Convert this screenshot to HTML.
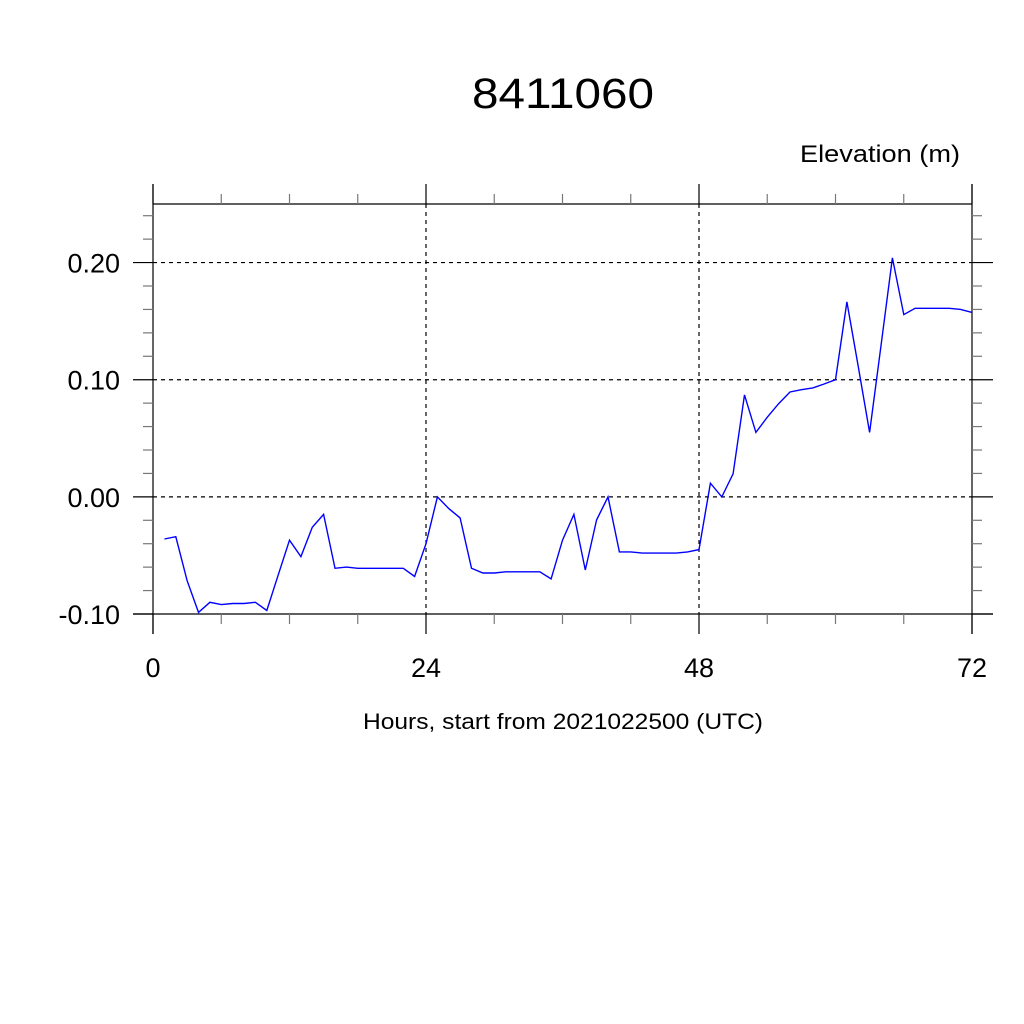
<!DOCTYPE html>
<html><head><meta charset="utf-8"><style>
html,body{margin:0;padding:0;background:#fff;width:1024px;height:1024px;overflow:hidden}
svg{display:block}
text{font-family:"Liberation Sans",sans-serif;fill:#000}
</style></head><body>
<svg id="chart" width="1024" height="1024" viewBox="0 0 1024 1024" xmlns="http://www.w3.org/2000/svg">
<rect width="1024" height="1024" fill="#fff"/>
<text x="563" y="108" font-size="43" text-anchor="middle" textLength="182" lengthAdjust="spacingAndGlyphs">8411060</text>
<text x="960" y="162" font-size="24" text-anchor="end" textLength="160" lengthAdjust="spacingAndGlyphs">Elevation (m)</text>
<text x="563" y="729" font-size="22" text-anchor="middle" textLength="400" lengthAdjust="spacingAndGlyphs">Hours, start from 2021022500 (UTC)</text>
<g id="grid"></g><g id="axes"></g><g id="series"></g>
</svg>
<script>
const hours=[1,2,3,4,5,6,7,8,9,10,11,12,13,14,15,16,17,18,19,20,21,22,23,24,25,26,27,28,29,30,31,32,33,34,35,36,37,38,39,40,41,42,43,44,45,46,47,48,49,50,51,52,53,54,55,56,57,58,59,60,61,62,63,64,65,66,67,68,69,70,71,72];
const elevation=[-0.036,-0.034,-0.0715,-0.0986,-0.090,-0.092,-0.091,-0.091,-0.090,-0.097,-0.067,-0.037,-0.051,-0.026,-0.015,-0.061,-0.060,-0.061,-0.061,-0.061,-0.061,-0.061,-0.068,-0.040,0.000,-0.010,-0.018,-0.061,-0.065,-0.065,-0.064,-0.064,-0.064,-0.064,-0.070,-0.037,-0.015,-0.0624,-0.0197,0.000,-0.047,-0.047,-0.048,-0.048,-0.048,-0.048,-0.047,-0.045,0.0117,0.000,0.0197,0.087,0.055,0.068,0.0795,0.0895,0.0915,0.093,0.0963,0.100,0.1664,0.111,0.055,0.129,0.204,0.1556,0.161,0.161,0.161,0.161,0.160,0.1575];
const xMajorTicks=[0,24,48,72];
const xMinorTicks=[6,12,18,30,36,42,54,60,66];
const yMajorTicks=[-0.10,0.00,0.10,0.20];
const yMajorLabels=["-0.10","0.00","0.10","0.20"];
const yMinorTicks=[-0.08,-0.06,-0.04,-0.02,0.02,0.04,0.06,0.08,0.12,0.14,0.16,0.18,0.22,0.24];
const yGrid=[0.00,0.10,0.20];
const xGrid=[24,48];

const X0=153,X1=972,YB=614,YT=204;
const xs=h=>X0+(h-0)/(72-0)*(X1-X0);
const ys=v=>YB-(v-(-0.10))/(0.25-(-0.10))*(YB-YT);
const NS="http://www.w3.org/2000/svg";
function mk(tag,attrs,parent){const e=document.createElementNS(NS,tag);for(const k in attrs)e.setAttribute(k,attrs[k]);parent.appendChild(e);return e;}
const grid=document.getElementById('grid'),axes=document.getElementById('axes'),series=document.getElementById('series');
yGrid.forEach(v=>{const l=mk('line',{x1:X0,x2:X1,y1:ys(v),y2:ys(v),stroke:'#000','stroke-width':1.2,'stroke-dasharray':'4 4'},grid);

});
xGrid.forEach(h=>{const l=mk('line',{x1:xs(h),x2:xs(h),y1:YT,y2:YB,stroke:'#000','stroke-width':1.2,'stroke-dasharray':'4 4'},grid);

});
[[X0,184,X0,634],[X1,184,X1,634],[X0,YT,X1,YT],[133,YB,993,YB]].forEach(c=>{const l=mk('line',{x1:c[0],y1:c[1],x2:c[2],y2:c[3],stroke:'#000','stroke-width':1.2},axes);

});
xMajorTicks.forEach(h=>{const x=xs(h);
mk('line',{x1:x,x2:x,y1:184,y2:YT,stroke:'#000','stroke-width':1.2},axes);
mk('line',{x1:x,x2:x,y1:YB,y2:634,stroke:'#000','stroke-width':1.2},axes);
const t=mk('text',{x:x,y:677,'font-size':27,'text-anchor':'middle'},axes);t.textContent=h;

});
xMinorTicks.forEach(h=>{const x=xs(h);
mk('line',{x1:x,x2:x,y1:194,y2:YT,stroke:'#777','stroke-width':1.2},axes);
mk('line',{x1:x,x2:x,y1:YB,y2:624,stroke:'#777','stroke-width':1.2},axes);});
yMajorTicks.forEach((v,i)=>{const y=ys(v);
mk('line',{x1:133,x2:X0,y1:y,y2:y,stroke:'#000','stroke-width':1.2},axes);
mk('line',{x1:X1,x2:993,y1:y,y2:y,stroke:'#000','stroke-width':1.2},axes);
const t=mk('text',{x:120,y:y+10,'font-size':27,'text-anchor':'end'},axes);t.textContent=yMajorLabels[i];

});
yMinorTicks.forEach(v=>{const y=ys(v);
mk('line',{x1:143,x2:X0,y1:y,y2:y,stroke:'#777','stroke-width':1.2},axes);
mk('line',{x1:X1,x2:982,y1:y,y2:y,stroke:'#777','stroke-width':1.2},axes);});
const pts=hours.map((h,i)=>xs(h).toFixed(1)+','+ys(elevation[i]).toFixed(1)).join(' ');
const pl=mk('polyline',{points:pts,fill:'none',stroke:'#0000ff','stroke-width':1.4},series);


</script>
</body></html>
